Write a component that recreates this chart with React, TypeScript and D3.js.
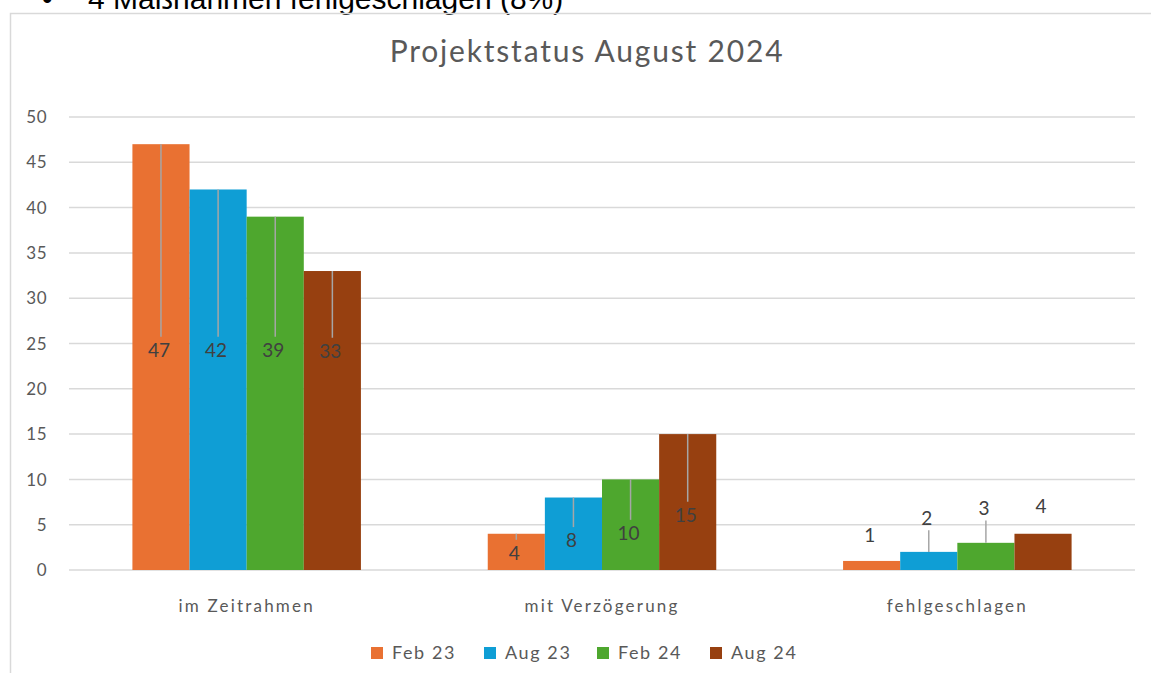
import React from 'react'
import * as d3 from 'd3'

// chart data
const categories = ['im Zeitrahmen', 'mit Verzögerung', 'fehlgeschlagen']
const series = ['Feb 23', 'Aug 23', 'Feb 24', 'Aug 24']
const colors = ['#e97132', '#0f9ed5', '#4ea72e', '#974010']
const values = [
  [47, 4, 1],
  [42, 8, 2],
  [39, 10, 3],
  [33, 15, 4],
]
// where the data labels were dragged to (in value units)
const labelPos = [
  [24.3, 1.9, 3.9],
  [24.3, 3.3, 5.7],
  [24.3, 4.1, 6.8],
  [24.2, 6.1, 7.0],
]
const yTicks = [0, 5, 10, 15, 20, 25, 30, 35, 40, 45, 50]

const W = 1151
const H = 673
const font = 'Lato, "Open Sans", sans-serif'

const App: React.FC = () => {
  const x = d3.scaleBand<string>().domain(categories).range([69, 1135]).padding(0)
  const xs = d3
    .scaleBand<string>()
    .domain(series)
    .range([0, x.bandwidth()])
    .paddingInner(0)
    .paddingOuter(1.11)
  const y = d3.scaleLinear().domain([0, 50]).range([570, 117])

  return (
    <svg width={W} height={H} style={{ position: 'absolute', left: 0, top: 0, background: '#fff' }}>
      {/* cut-off bullet line from the document above */}
      <text x={42} y={9} fontFamily='"Liberation Sans", Arial, sans-serif' fontSize={30} fill="#000">
        •
      </text>
      <text x={88} y={9} fontFamily='"Liberation Sans", Arial, sans-serif' fontSize={30} fill="#000">
        4 Maßnahmen fehlgeschlagen (8%)
      </text>

      {/* chart frame */}
      <path d={`M10.5,${H} V13.5 H${W}`} fill="none" stroke="#d9d9d9" strokeWidth={1.5} />

      <text x={587} y={62} textAnchor="middle" fontFamily={font} fontSize={30} letterSpacing={1.8} fill="#595959">
        Projektstatus August 2024
      </text>

      {yTicks.map((t) => (
        <g key={t}>
          <line x1={69} x2={1135} y1={y(t)} y2={y(t)} stroke="#d9d9d9" strokeWidth={1.5} />
          <text x={47} y={y(t)} dy="0.36em" textAnchor="end" fontFamily={font} fontSize={17} letterSpacing={0.5} fill="#595959">
            {t}
          </text>
        </g>
      ))}

      {series.map((s, si) =>
        categories.map((c, ci) => (
          <rect
            key={s + c}
            x={x(c)! + xs(s)!}
            y={y(values[si][ci])}
            width={xs.bandwidth()}
            height={y(0) - y(values[si][ci])}
            fill={colors[si]}
          />
        ))
      )}

      {series.map((s, si) =>
        categories.map((c, ci) => {
          const cx = x(c)! + xs(s)! + xs.bandwidth() / 2
          const top = y(values[si][ci])
          const ly = y(labelPos[si][ci])
          const inside = ly > top
          const a = inside ? top : ly + 12
          const b = inside ? ly - 13 : top
          const show = inside ? b - a > 3 : b - a > 18
          return (
            <g key={'l' + s + c}>
              {show && <line x1={cx} x2={cx} y1={a} y2={b} stroke="#a6a6a6" strokeWidth={1.5} />}
              <text x={cx - 2} y={ly} dy="0.36em" textAnchor="middle" fontFamily={font} fontSize={19} fill="#404040">
                {values[si][ci]}
              </text>
            </g>
          )
        })
      )}

      {categories.map((c) => (
        <text
          key={c}
          x={x(c)! + x.bandwidth() / 2}
          y={606}
          dy="0.36em"
          textAnchor="middle"
          fontFamily={font}
          fontSize={17}
          letterSpacing={2.2}
          fill="#595959"
        >
          {c}
        </text>
      ))}

      {series.map((s, si) => (
        <g key={'leg' + s} transform={`translate(${371 + si * 113},647)`}>
          <rect width={12} height={12} fill={colors[si]} />
          <text x={21} y={6} dy="0.36em" fontFamily={font} fontSize={18} letterSpacing={1.6} fill="#595959">
            {s}
          </text>
        </g>
      ))}
    </svg>
  )
}

export default App
